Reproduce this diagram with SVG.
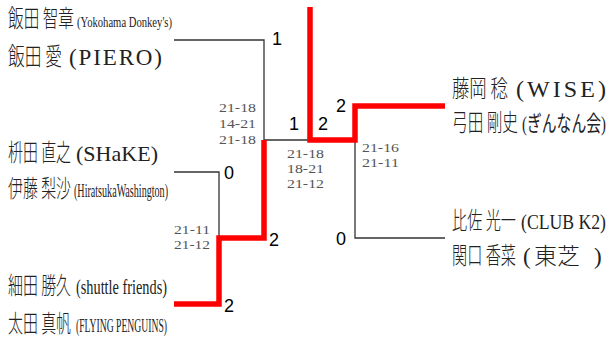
<svg xmlns="http://www.w3.org/2000/svg" width="611" height="340" viewBox="0 0 611 340">
<style>
.nm{font-family:"Liberation Serif","Noto Sans CJK JP",serif;fill:#222;}
.jp{font-family:"Noto Sans CJK JP","Liberation Serif",sans-serif;font-size:24px;font-weight:300;fill:#222;}
.sc{font-family:"Liberation Serif",serif;font-size:12.5px;fill:#555;}
.rs{font-family:"Liberation Sans",Arial,sans-serif;font-size:18px;fill:#000;}
.ln{fill:none;stroke:#333;stroke-width:1.3;}
.win{fill:none;stroke:#ff0000;stroke-width:5.5;stroke-linejoin:miter;}
</style>
<rect width="611" height="340" fill="#fff"/>
<g id="connectors">
<path class="ln" d="M174,40 H264 V140 H310"/>
<path class="ln" d="M174,172 H219 V238"/>
<path class="ln" d="M355,140 V238 H445"/>
<path class="win" d="M174,304 H219 V238 H264 V140"/>
<path class="win" d="M310,7 V140 H355 V106 H445"/>
</g>
<g id="results">
<text class="rs" x="272" y="45">1</text>
<text class="rs" x="289" y="130">1</text>
<text class="rs" x="318" y="130">2</text>
<text class="rs" x="336" y="112">2</text>
<text class="rs" x="224" y="179">0</text>
<text class="rs" x="269" y="246">2</text>
<text class="rs" x="224" y="312">2</text>
<text class="rs" x="336" y="245">0</text>
</g>
<g id="scores">
<text class="sc" x="219" y="112" textLength="37" lengthAdjust="spacingAndGlyphs">21-18</text>
<text class="sc" x="219" y="128" textLength="37" lengthAdjust="spacingAndGlyphs">14-21</text>
<text class="sc" x="219" y="144" textLength="37" lengthAdjust="spacingAndGlyphs">21-18</text>
<text class="sc" x="287" y="158" textLength="37" lengthAdjust="spacingAndGlyphs">21-18</text>
<text class="sc" x="287" y="173" textLength="37" lengthAdjust="spacingAndGlyphs">18-21</text>
<text class="sc" x="287" y="188" textLength="37" lengthAdjust="spacingAndGlyphs">21-12</text>
<text class="sc" x="174" y="234" textLength="36" lengthAdjust="spacingAndGlyphs">21-11</text>
<text class="sc" x="174" y="249" textLength="36" lengthAdjust="spacingAndGlyphs">21-12</text>
<text class="sc" x="362" y="152" textLength="37" lengthAdjust="spacingAndGlyphs">21-16</text>
<text class="sc" x="362" y="167" textLength="37" lengthAdjust="spacingAndGlyphs">21-11</text>
</g>
<g id="team-iida">
<text class="jp" transform="translate(8,27) scale(0.66,1)" font-size="23" textLength="100" lengthAdjust="spacingAndGlyphs">飯田 智章</text>
<text class="nm" transform="translate(77,27) scale(0.7,1)" font-size="15" textLength="135.7" lengthAdjust="spacingAndGlyphs">(Yokohama Donkey's)</text>
<text class="jp" transform="translate(8,65) scale(0.66,1)" textLength="81.8" lengthAdjust="spacingAndGlyphs">飯田 愛</text>
<text class="nm" x="69" y="65" font-size="23" textLength="93" lengthAdjust="spacing">(PIERO)</text>
</g>
<g id="team-masuda">
<text class="jp" transform="translate(8,161) scale(0.66,1)" textLength="95.5" lengthAdjust="spacingAndGlyphs">枡田 直之</text>
<text class="nm" x="76" y="161" font-size="22" textLength="82" lengthAdjust="spacing">(SHaKE)</text>
<text class="jp" transform="translate(8,197) scale(0.66,1)" textLength="95.5" lengthAdjust="spacingAndGlyphs">伊藤 梨沙</text>
<text class="nm" transform="translate(74,197) scale(0.527,1)" font-size="19" textLength="178.4" lengthAdjust="spacingAndGlyphs">(HiratsukaWashington)</text>
</g>
<g id="team-hosoda">
<text class="jp" transform="translate(8,294) scale(0.66,1)" textLength="95.5" lengthAdjust="spacingAndGlyphs">細田 勝久</text>
<text class="nm" transform="translate(76,294) scale(0.715,1)" font-size="20" textLength="127.3" lengthAdjust="spacingAndGlyphs">(shuttle friends)</text>
<text class="jp" transform="translate(8,332) scale(0.66,1)" textLength="95.5" lengthAdjust="spacingAndGlyphs">太田 真帆</text>
<text class="nm" transform="translate(76,332) scale(0.503,1)" font-size="19" textLength="181" lengthAdjust="spacingAndGlyphs">(FLYING PENGUINS)</text>
</g>
<g id="team-fujioka">
<text class="jp" transform="translate(452,97) scale(0.66,1)" textLength="84.8" lengthAdjust="spacingAndGlyphs">藤岡 稔</text>
<text class="nm" x="516" y="97" font-size="24" textLength="90" lengthAdjust="spacing">(WISE)</text>
<text class="jp" transform="translate(452,131) scale(0.66,1)" textLength="100" lengthAdjust="spacingAndGlyphs">弓田 剛史</text>
<text class="nm" transform="translate(522,131) scale(0.674,1)" font-size="22" textLength="124.6" lengthAdjust="spacingAndGlyphs">(ぎんなん会)</text>
</g>
<g id="team-hisa">
<text class="jp" transform="translate(452,229) scale(0.66,1)" textLength="97" lengthAdjust="spacingAndGlyphs">比佐 光一</text>
<text class="nm" transform="translate(521,229) scale(0.804,1)" font-size="22" textLength="105.7" lengthAdjust="spacingAndGlyphs">(CLUB K2)</text>
<text class="jp" transform="translate(452,264) scale(0.66,1)" textLength="97" lengthAdjust="spacingAndGlyphs">関口 香菜</text>
<text class="nm" y="264" font-size="23"><tspan x="523">(</tspan><tspan x="534" font-weight="300">東芝</tspan><tspan x="594">)</tspan></text>
</g>
</svg>
